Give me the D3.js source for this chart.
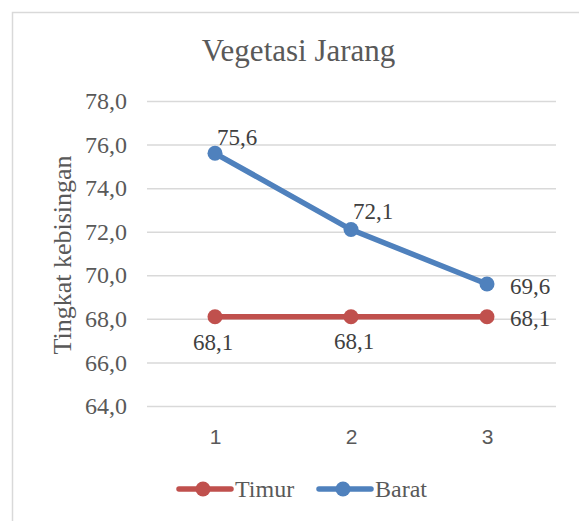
<!DOCTYPE html>
<html><head><meta charset="utf-8">
<script src="https://cdn.jsdelivr.net/npm/d3@7"></script>
<style>body{margin:0;background:#fff}svg{display:block}</style>
</head><body>
<script>
const categories = ["1","2","3"];
const timur = [68.1, 68.1, 68.1];
const barat = [75.6, 72.1, 69.6];
const yTicks = [64,66,68,70,72,74,76,78];
const seriesNames = ["Timur","Barat"];
const colors = ["#C0504D","#4F81BD"];

const W=579,H=521;
const svg=d3.select("body").append("svg").attr("width",W).attr("height",H);
svg.append("rect").attr("x",12.5).attr("y",12.5).attr("width",W).attr("height",H).attr("fill","#fff").attr("stroke","#d9d9d9").attr("stroke-width",1.5);

const x=d3.scalePoint().domain(categories).range([215,487]);
const y=d3.scaleLinear().domain([64,78]).range([406,101]);
const serif="Liberation Serif";

svg.append("text").attr("x",298.5).attr("y",61).attr("text-anchor","middle").style("font-family",serif).style("font-size","31px").attr("fill","#595959").text("Vegetasi Jarang");

const yAxis=svg.append("g").attr("transform","translate(147,0)")
 .call(d3.axisLeft(y).tickValues(yTicks).tickSize(-409).tickFormat(d=>d3.format(".1f")(d).replace(".",",")).tickPadding(20));
yAxis.select(".domain").remove();
yAxis.selectAll(".tick line").attr("stroke","#d9d9d9").attr("stroke-width",1.5);
yAxis.selectAll(".tick text").style("font-family",serif).style("font-size","24px").attr("fill","#595959");

const xAxis=svg.append("g").attr("transform","translate(0,406)")
 .call(d3.axisBottom(x).tickSize(0).tickPadding(23));
xAxis.select(".domain").remove();
xAxis.selectAll(".tick text").style("font-family","Liberation Sans").style("font-size","21px").attr("fill","#595959");

svg.append("text").attr("transform","translate(71,255) rotate(-90)").attr("text-anchor","middle").style("font-family",serif).style("font-size","26px").attr("fill","#595959").text("Tingkat kebisingan");

const data=[timur,barat];
const line=d3.line().x((d,i)=>x(categories[i])).y(d=>y(d));
data.forEach((s,k)=>{
  svg.append("path").datum(s).attr("d",line).attr("fill","none").attr("stroke",colors[k]).attr("stroke-width",5.5).attr("stroke-linecap","round");
  svg.selectAll(null).data(s).enter().append("circle").attr("cx",(d,i)=>x(categories[i])).attr("cy",d=>y(d)).attr("r",7.5).attr("fill",colors[k]);
});
const fmt=d=>d3.format(".1f")(d).replace(".",",");
const bOff=[[2,-8,"start"],[2,-11,"start"],[23,10,"start"]];
barat.forEach((d,i)=>{
  svg.append("text").attr("x",x(categories[i])+bOff[i][0]).attr("y",y(d)+bOff[i][1]).attr("text-anchor",bOff[i][2]).style("font-family",serif).style("font-size","23px").attr("fill","#404040").text(fmt(d));
});
const tOff=[[-2,33,"middle"],[3,32,"middle"],[23,9,"start"]];
timur.forEach((d,i)=>{
  svg.append("text").attr("x",x(categories[i])+tOff[i][0]).attr("y",y(d)+tOff[i][1]).attr("text-anchor",tOff[i][2]).style("font-family",serif).style("font-size","23px").attr("fill","#404040").text(fmt(d));
});

const leg=[[177,seriesNames[0]],[317,seriesNames[1]]];
leg.forEach((l,k)=>{
  const g=svg.append("g");
  g.append("line").attr("x1",l[0]+2).attr("x2",l[0]+54).attr("y1",489).attr("y2",489).attr("stroke",colors[k]).attr("stroke-width",5.5).attr("stroke-linecap","round");
  g.append("circle").attr("cx",l[0]+26).attr("cy",489).attr("r",7.5).attr("fill",colors[k]);
  g.append("text").attr("x",l[0]+58).attr("y",497).style("font-family",serif).style("font-size","24px").attr("fill","#595959").text(l[1]);
});
</script>
</body></html>
